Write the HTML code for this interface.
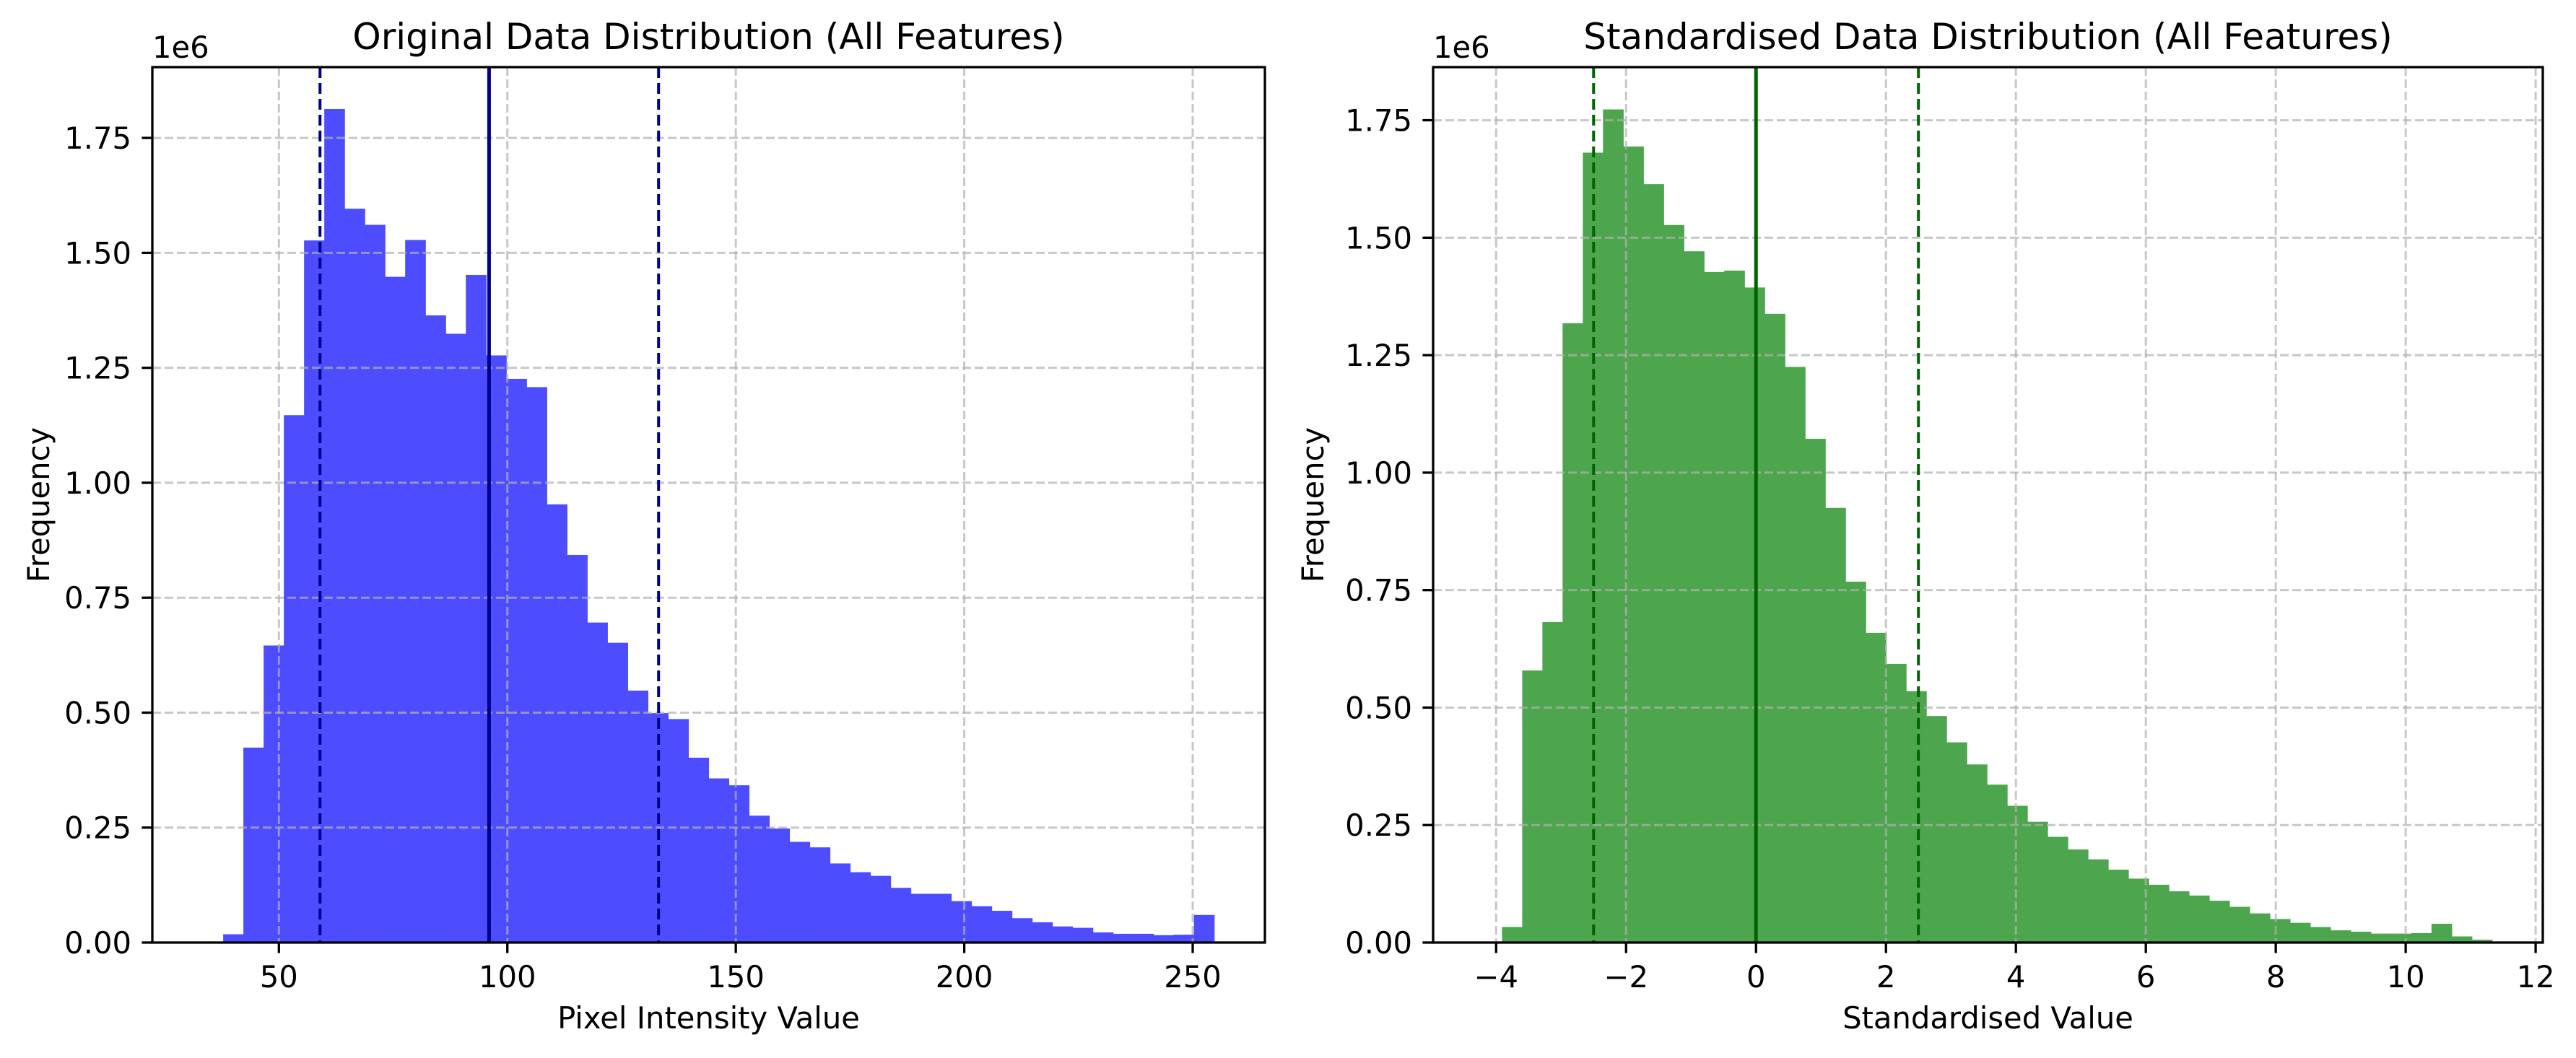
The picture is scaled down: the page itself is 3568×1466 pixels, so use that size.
<!DOCTYPE html>
<html><head><meta charset="utf-8"><style>
html,body{margin:0;padding:0;background:#fff;}
svg{display:block;font-family:"DejaVu Sans","Liberation Sans",sans-serif;}
</style></head><body>
<svg id="fig" width="3568" height="1466" viewBox="0 0 3568 1466" xmlns="http://www.w3.org/2000/svg"></svg>
<script>
// ---- Left chart data ----
const leftBinStart = 37.8;
const leftBinEnd = 254.7;
const leftCounts = [0.018,0.424,0.646,1.147,1.527,1.813,1.596,1.561,1.448,1.528,1.364,1.324,1.452,1.277,1.226,1.208,0.953,0.843,0.696,0.652,0.548,0.499,0.486,0.402,0.357,0.342,0.276,0.248,0.219,0.207,0.172,0.153,0.145,0.119,0.106,0.106,0.090,0.079,0.069,0.053,0.044,0.035,0.032,0.022,0.019,0.019,0.016,0.017,0.060];
const leftXTicks = [50,100,150,200,250];
const leftYTicks = [0,0.25,0.5,0.75,1.0,1.25,1.5,1.75];
const leftMean = 96.0;
const leftStdLines = [59.0,133.1];
// ---- Right chart data ----
const rightBinStart = -3.91;
const rightBinEnd = 11.33;
const rightCounts = [0.033,0.579,0.682,1.318,1.681,1.773,1.694,1.614,1.527,1.471,1.427,1.430,1.394,1.338,1.225,1.072,0.925,0.768,0.659,0.593,0.535,0.482,0.426,0.379,0.336,0.291,0.257,0.225,0.198,0.177,0.155,0.136,0.123,0.109,0.100,0.089,0.076,0.062,0.050,0.042,0.033,0.026,0.023,0.019,0.019,0.020,0.040,0.013,0.006];
const rightXTicks = [-4,-2,0,2,4,6,8,10,12];
const rightYTicks = [0,0.25,0.5,0.75,1.0,1.25,1.5,1.75];
const rightMean = 0;
const rightStdLines = [-2.5,2.5];

const NS="http://www.w3.org/2000/svg";
const svg=document.getElementById('fig');
function mk(tag,attrs,parent,text){const e=document.createElementNS(NS,tag);for(const k in attrs)e.setAttribute(k,attrs[k]);if(text!==undefined)e.textContent=text;(parent||svg).appendChild(e);return e;}
function fmtY(v){return v.toFixed(2);}
function fmtX(v){return v<0?'\u2212'+Math.abs(v):String(v);}

function drawChart(o){
  const g=mk('g',{});
  
  
  const L=o.left,R=o.right,T=93,B=1306;
  const xs=v=>L+(v-o.xmin)/(o.xmax-o.xmin)*(R-L);
  const ys=v=>B-(v/o.ymax)*(B-T);
  const n=o.counts.length, w=(o.binEnd-o.binStart)/n;
  o.counts.forEach((c,i)=>{
    const x0=xs(o.binStart+i*w), x1=xs(o.binStart+(i+1)*w);
    const r=mk('rect',{x:x0,y:ys(c),width:x1-x0+0.6,height:B-ys(c),fill:o.color},g);
    
    
  });
  o.xticks.forEach(t=>{const l=mk('line',{x1:xs(t),x2:xs(t),y1:T,y2:B,stroke:'#b0b0b0','stroke-opacity':0.7,'stroke-width':3,'stroke-dasharray':'12,5'},g);
    });
  o.yticks.forEach(t=>{const l=mk('line',{x1:L,x2:R,y1:ys(t),y2:ys(t),stroke:'#b0b0b0','stroke-opacity':0.7,'stroke-width':3,'stroke-dasharray':'12,5'},g);
    });
  o.std.forEach(v=>{const l=mk('line',{x1:xs(v),x2:xs(v),y1:T,y2:B,stroke:o.lineColor,'stroke-width':4,'stroke-dasharray':'15,7'},g);
    });
  const m=mk('line',{x1:xs(o.mean),x2:xs(o.mean),y1:T,y2:B,stroke:o.lineColor,'stroke-width':5},g);
  
  const f=mk('rect',{x:L,y:T,width:R-L,height:B-T,fill:'none',stroke:'#000','stroke-width':3.3},g);
  
  o.xticks.forEach(t=>{
    mk('line',{x1:xs(t),x2:xs(t),y1:B,y2:B+14.6,stroke:'#000','stroke-width':3.3},g);
    const tx=mk('text',{x:xs(t),y:B+62,'font-size':41.7,'text-anchor':'middle'},g,fmtX(t));
    
  });
  o.yticks.forEach(t=>{
    mk('line',{x1:L-14.6,x2:L,y1:ys(t),y2:ys(t),stroke:'#000','stroke-width':3.3},g);
    const tx=mk('text',{x:L-29,y:ys(t)+15,'font-size':41.7,'text-anchor':'end'},g,fmtY(t));
    
  });
  const e=mk('text',{x:L,y:80,'font-size':41.7},g,'1e6');
  
  const ti=mk('text',{x:(L+R)/2,y:68,'font-size':50,'text-anchor':'middle'},g,o.title);
  
  const xl=mk('text',{x:(L+R)/2,y:1425,'font-size':41.7,'text-anchor':'middle'},g,o.xlabel);
  
  const yx=o.ylabelX;
  const yl=mk('text',{x:yx,y:(T+B)/2,'font-size':41.7,'text-anchor':'middle',transform:`rotate(-90 ${yx} ${(T+B)/2})`},g,'Frequency');
  
}
drawChart({name:'original-distribution-chart',left:211,right:1752,xmin:22.3,xmax:265.8,ymax:1.904,counts:leftCounts,binStart:leftBinStart,binEnd:leftBinEnd,
  color:'#4d4dff',lineColor:'#00008b',mean:leftMean,std:leftStdLines,xticks:leftXTicks,yticks:leftYTicks,
  title:'Original Data Distribution (All Features)',xlabel:'Pixel Intensity Value',ylabelX:68});
drawChart({name:'standardised-distribution-chart',left:1985,right:3522,xmin:-4.97,xmax:12.11,ymax:1.863,counts:rightCounts,binStart:rightBinStart,binEnd:rightBinEnd,
  color:'#4da64d',lineColor:'#006400',mean:rightMean,std:rightStdLines,xticks:rightXTicks,yticks:rightYTicks,
  title:'Standardised Data Distribution (All Features)',xlabel:'Standardised Value',ylabelX:1833});
</script>
</body></html>
